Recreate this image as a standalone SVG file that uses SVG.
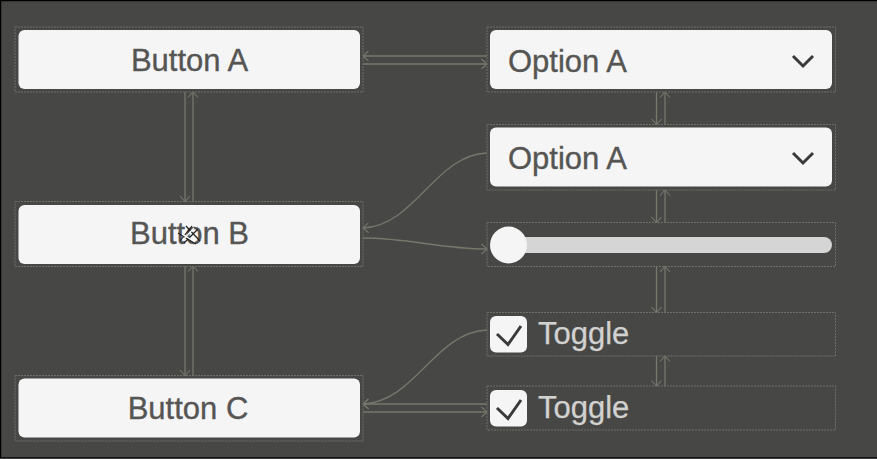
<svg xmlns="http://www.w3.org/2000/svg" width="877" height="459" viewBox="0 0 877 459">
<style>
.bg{fill:#474746;stroke:#000;stroke-width:1.5}
.frame{fill:none;stroke:#6f6f68;stroke-width:1;stroke-dasharray:2 1}
.face{fill:#f5f5f6}
.t{font-family:"Liberation Sans",Arial,sans-serif;font-size:31px;fill:#555553;stroke:#555553;stroke-width:.35}
.l{font-family:"Liberation Sans",Arial,sans-serif;font-size:31px;fill:#d2d2d0;stroke:#d2d2d0;stroke-width:.25}
.c{fill:none;stroke:#77776c;stroke-width:1.3}
.g{fill:none;stroke:#3a3a3a;stroke-width:3}
</style>
<defs>
<marker id="a" viewBox="0 0 10 12" refX="9.5" refY="6" markerWidth="10" markerHeight="12" markerUnits="userSpaceOnUse" orient="auto"><path d="M4 1L9.5 6L4 11" fill="none" stroke="#77776c" stroke-width="1.1"/></marker>
</defs>
<rect class="bg" x="0.5" y="0.5" width="878" height="457.5"/>
<g id="connectors">
<path class="c" marker-end="url(#a)" d="M185 92V201.5"/>
<path class="c" marker-end="url(#a)" d="M193 201.5V92"/>
<path class="c" marker-end="url(#a)" d="M185 266V375.5"/>
<path class="c" marker-end="url(#a)" d="M193 375.5V266"/>
<path class="c" marker-end="url(#a)" d="M487 56H363"/>
<path class="c" marker-end="url(#a)" d="M363 64H487"/>
<path class="c" marker-end="url(#a)" d="M656.5 92V124.5"/>
<path class="c" marker-end="url(#a)" d="M665 124.5V92"/>
<path class="c" marker-end="url(#a)" d="M656.5 190V222.5"/>
<path class="c" marker-end="url(#a)" d="M665 222.5V190"/>
<path class="c" marker-end="url(#a)" d="M656.5 266.5V312.5"/>
<path class="c" marker-end="url(#a)" d="M665 312.5V266.5"/>
<path class="c" marker-end="url(#a)" d="M656.5 356V386"/>
<path class="c" marker-end="url(#a)" d="M665 386V356"/>
<path class="c" marker-end="url(#a)" d="M487 153C435 155 415 226 363 228"/>
<path class="c" marker-end="url(#a)" d="M363 238C410 238 440 249 487 249"/>
<path class="c" marker-end="url(#a)" d="M487 330C435 332 415 402 363 404"/>
<path class="c" marker-end="url(#a)" d="M487 404H363"/>
<path class="c" marker-end="url(#a)" d="M363 412H487"/>
</g>
<g id="button-a"><rect class="frame" x="15" y="27" width="348" height="65"/><rect class="face" x="18.5" y="30" width="341.5" height="59" rx="6"/><text class="t" x="189.500" y="71" text-anchor="middle">Button A</text></g>
<g id="button-b"><rect class="frame" x="15" y="201.500" width="348" height="65"/><rect class="face" x="18.5" y="205" width="341.5" height="59" rx="6"/><text class="t" x="189.500" y="244" text-anchor="middle">Button B</text>
<path d="M180 241L192 226M184 243L198 229M178 233L196 244M186 226L200 241" stroke="#222" stroke-width="1.2" fill="none"/><path d="M183 240L194 228M182 234L195 242" stroke="#fff" stroke-width="1.2" fill="none"/></g>
<g id="button-c"><rect class="frame" x="15" y="375.500" width="348" height="65.500"/><rect class="face" x="18.5" y="378.500" width="341.5" height="59" rx="6"/><text class="t" x="188" y="419" text-anchor="middle">Button C</text></g>
<g id="dropdown-1"><rect class="frame" x="487" y="27" width="348.500" height="65"/><rect class="face" x="490" y="30" width="342" height="59" rx="6"/><text class="t" x="508" y="71.500">Option A</text><path class="g" d="M793 56L803 66L813 56"/></g>
<g id="dropdown-2"><rect class="frame" x="487" y="124.500" width="348.500" height="65.500"/><rect class="face" x="490" y="127.500" width="342" height="59" rx="6"/><text class="t" x="508" y="168.500">Option A</text><path class="g" d="M793 153L803 163L813 153"/></g>
<g id="slider"><rect class="frame" x="487" y="222.500" width="348.500" height="44"/><rect x="500" y="237" width="332" height="16" rx="8" fill="#d5d5d5"/><circle class="face" cx="508.500" cy="245" r="18.500"/></g>
<g id="toggle-1"><rect class="frame" x="487" y="312.500" width="348.500" height="43.500"/><rect class="face" x="490" y="316" width="37" height="36.500" rx="6"/><path class="g" d="M497 334L508 344.500L521 326"/><text class="l" x="538" y="344">Toggle</text></g>
<g id="toggle-2"><rect class="frame" x="487" y="386" width="348.500" height="44"/><rect class="face" x="490" y="390" width="37" height="36.500" rx="6"/><path class="g" d="M497 408L508 418.500L521 400"/><text class="l" x="538" y="417.500">Toggle</text></g>
</svg>
